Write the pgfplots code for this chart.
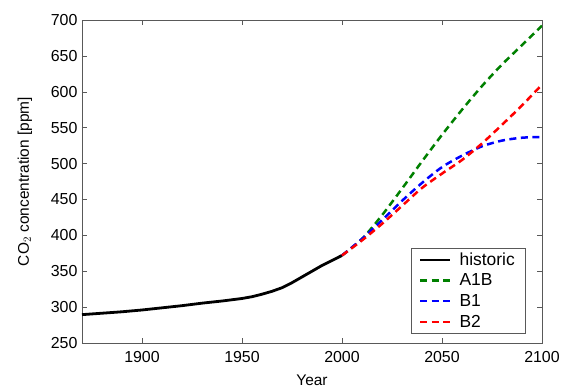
\documentclass[border=0pt]{standalone}
\usepackage{pgfplots}
\pgfplotsset{compat=1.18}
\usepackage{fontspec}
\setmainfont{Liberation Sans}
\definecolor{mgreen}{rgb}{0,0.5,0}
\begin{document}
\begin{tikzpicture}
\begin{axis}[
  name=ax,
  scale only axis,
  width=460bp, height=323bp,
  xmin=1870, xmax=2100, ymin=250, ymax=700,
  xtick={1900,1950,2000,2050,2100},
  ytick={250,300,...,700},
  x tick label style={/pgf/number format/1000 sep={}, yshift=-5bp},
  y tick label style={xshift=-1bp},
  /pgf/number format/assume math mode=true,
  tick label style={font=\fontsize{16}{18}\selectfont},
  tick align=inside,
  major tick length=5bp,
  axis line style={gray!70!black},
  every tick/.style={gray!70!black},
  xlabel={Year},
  ylabel={CO$_2$ concentration [ppm]},
  label style={font=\fontsize{15.5}{17}\selectfont},
  xlabel style={yshift=-5bp},
  ylabel style={yshift=12bp},
  legend style={at={(0.963,0.03)}, anchor=south east, font=\fontsize{17.5}{19}\selectfont,
    draw=gray!70!black, row sep=6bp, inner xsep=8bp, inner ysep=4bp,
    nodes={inner ysep=0.5bp},
    /tikz/every odd column/.append style={column sep=6bp}},
  legend cell align=left,
  legend image code/.code={\draw[#1] (0bp,0bp) -- (30bp,0bp);},
]
\addplot[black, line width=2.8bp] coordinates {
(1870,289.5) (1880,291.5) (1890,293.5) (1900,296) (1910,299) (1920,302) (1930,305.5) (1940,308.5) (1950,312) (1955,314.5) (1960,318) (1965,322) (1970,327) (1975,334) (1980,342) (1985,350) (1990,358) (1995,365) (2000,372)
};
\addlegendentry{historic}
\addplot[mgreen, line width=2.5bp, dash pattern=on 7bp off 4.5bp, smooth] coordinates {
(2000,372) (2010,395) (2020,428) (2030,465) (2040,503) (2050,540) (2060,575) (2070,608) (2080,638) (2090,665) (2100,692)
};
\addlegendentry{A1B}
\addplot[blue, line width=2.5bp, dash pattern=on 7bp off 4.5bp, smooth] coordinates {
(2000,372) (2010,395) (2020,421) (2030,448) (2040,473) (2050,495) (2060,511) (2070,524) (2080,532) (2090,536) (2100,537)
};
\addlegendentry{B1}
\addplot[red, line width=2.5bp, dash pattern=on 7bp off 4.5bp, smooth] coordinates {
(2000,372) (2010,393) (2020,416) (2030,441) (2040,466) (2050,486) (2060,505) (2070,528) (2080,554) (2090,581) (2100,610)
};
\addlegendentry{B2}
\end{axis}
\pgfresetboundingbox
\path[use as bounding box] ([xshift=-82bp,yshift=-45bp]ax.south west) rectangle ([xshift=24bp,yshift=20bp]ax.north east);
\end{tikzpicture}
\end{document}
